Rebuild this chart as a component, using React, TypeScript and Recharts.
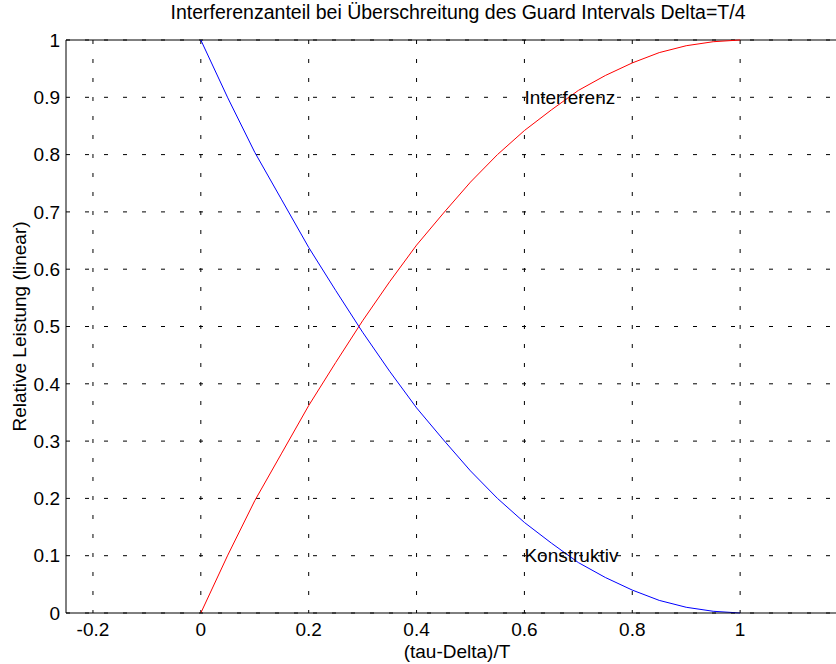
import {
  LineChart,
  Line,
  XAxis,
  YAxis,
  CartesianGrid,
  ReferenceLine,
  ReferenceDot,
} from "recharts";

// (tau-Delta)/T
const tauDelta = [
  0, 0.05, 0.1, 0.15, 0.2, 0.25, 0.3, 0.35, 0.4, 0.45, 0.5, 0.55, 0.6, 0.65,
  0.7, 0.75, 0.8, 0.85, 0.9, 0.95, 1,
];

const interferenz = [
  0, 0.101, 0.196, 0.279, 0.362, 0.437, 0.51, 0.578, 0.642, 0.698, 0.752, 0.8,
  0.842, 0.878, 0.912, 0.938, 0.96, 0.978, 0.99, 0.997, 1,
];

const konstruktiv = [
  1, 0.899, 0.804, 0.721, 0.638, 0.563, 0.49, 0.422, 0.358, 0.302, 0.248, 0.2,
  0.158, 0.122, 0.088, 0.062, 0.04, 0.022, 0.01, 0.003, 0,
];

const xTicks = [-0.2, 0, 0.2, 0.4, 0.6, 0.8, 1];
const yTicks = [0, 0.1, 0.2, 0.3, 0.4, 0.5, 0.6, 0.7, 0.8, 0.9, 1];

const data = tauDelta.map((x, i) => ({
  x,
  interferenz: interferenz[i],
  konstruktiv: konstruktiv[i],
}));

const font = "'Liberation Sans', Arial, Helvetica, sans-serif";
const fs = 19;

export default function App() {
  return (
    <div
      style={{
        position: "fixed",
        left: 0,
        top: 0,
        width: 836,
        height: 664,
        overflow: "hidden",
        background: "#fff",
        fontFamily: font,
      }}
    >
      <div
        style={{
          position: "absolute",
          left: 458,
          top: 1,
          transform: "translateX(-50%)",
          whiteSpace: "nowrap",
          fontSize: 19.5,
          color: "#000",
        }}
      >
        Interferenzanteil bei Überschreitung des Guard Intervals Delta=T/4
      </div>
      <LineChart
        width={860}
        height={664}
        data={data}
        margin={{ top: 40, right: 12, bottom: 0, left: 10 }}
      >
        <CartesianGrid
          stroke="#000"
          strokeDasharray="4 15"
          horizontalValues={yTicks}
          verticalValues={xTicks}
        />
        <XAxis
          dataKey="x"
          type="number"
          domain={[-0.25, 1.2]}
          ticks={xTicks}
          allowDataOverflow
          height={51}
          tickLine={false}
          tickSize={0}
          tickMargin={10}
          axisLine={{ stroke: "#000" }}
          tick={{ fill: "#000", fontSize: fs }}
          label={{
            value: "(tau-Delta)/T",
            position: "insideBottom",
            offset: 6,
            fill: "#000",
            fontSize: fs,
          }}
        />
        <YAxis
          type="number"
          domain={[0, 1]}
          ticks={yTicks}
          width={56}
          tickLine={false}
          tickSize={0}
          tickMargin={6}
          axisLine={{ stroke: "#000" }}
          tick={{ fill: "#000", fontSize: fs }}
          label={{
            content: () => (
              <text
                x={26}
                y={326.5}
                transform="rotate(-90, 26, 326.5)"
                textAnchor="middle"
                fill="#000"
                fontSize={fs}
              >
                Relative Leistung (linear)
              </text>
            ),
          }}
        />
        <ReferenceLine y={1} stroke="#000" />
        <Line
          type="linear"
          dataKey="interferenz"
          stroke="#ff0000"
          strokeWidth={1}
          dot={false}
          isAnimationActive={false}
        />
        <Line
          type="linear"
          dataKey="konstruktiv"
          stroke="#0000ff"
          strokeWidth={1}
          dot={false}
          isAnimationActive={false}
        />
        <ReferenceDot
          x={0.6}
          y={0.9}
          r={0}
          fill="none"
          stroke="none"
          label={{
            value: "Interferenz",
            position: "right",
            offset: 0,
            fill: "#000",
            fontSize: fs,
          }}
        />
        <ReferenceDot
          x={0.6}
          y={0.1}
          r={0}
          fill="none"
          stroke="none"
          label={{
            value: "Konstruktiv",
            position: "right",
            offset: 0,
            fill: "#000",
            fontSize: fs,
          }}
        />
      </LineChart>
    </div>
  );
}
